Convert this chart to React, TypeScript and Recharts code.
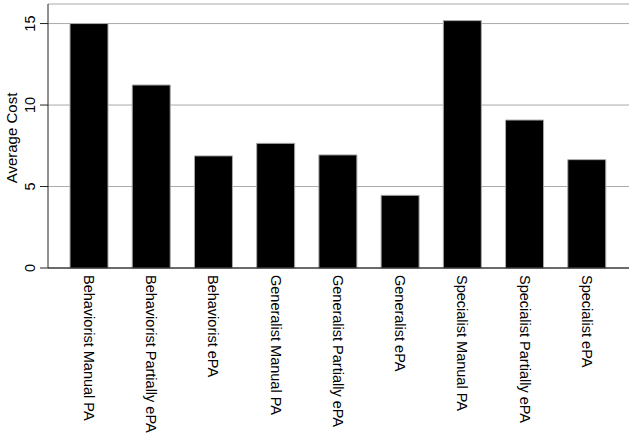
import React from "react";
import { BarChart, Bar, XAxis, YAxis, CartesianGrid } from "recharts";

const categories = [
  "Behaviorist Manual PA",
  "Behaviorist Partially ePA",
  "Behaviorist ePA",
  "Generalist Manual PA",
  "Generalist Partially ePA",
  "Generalist ePA",
  "Specialist Manual PA",
  "Specialist Partially ePA",
  "Specialist ePA",
];
const costs = [15.0, 11.23, 6.88, 7.65, 6.94, 4.46, 15.18, 9.08, 6.65];
const yTicks = [0, 5, 10, 15];

const data = categories.map((c, i) => ({ name: c, cost: costs[i] }));

const FONT = "'Liberation Sans', Arial, Helvetica, sans-serif";

const XTick = (props: any) => {
  const { x, y, payload } = props;
  const ty = y + 7;
  return (
    <text
      x={x}
      y={ty}
      transform={`rotate(90, ${x}, ${ty})`}
      textAnchor="start"
      dy="0.35em"
      fontSize={14.5}
      fontFamily={FONT}
      fill="#000"
    >
      {payload.value}
    </text>
  );
};

const YTick = (props: any) => {
  const { x, y, payload } = props;
  const tx = x - 3;
  return (
    <text
      x={tx}
      y={y}
      transform={`rotate(-90, ${tx}, ${y})`}
      textAnchor="middle"
      fontSize={14.5}
      fontFamily={FONT}
      fill="#000"
    >
      {payload.value}
    </text>
  );
};

export default function App() {
  return (
    <div style={{ position: "absolute", left: 0, top: 0, width: 634, height: 440, background: "#fff" }}>
      <BarChart
        width={634}
        height={440}
        data={data}
        margin={{ top: 4, right: 5, left: 0, bottom: 0 }}
      >
        <CartesianGrid vertical={false} stroke="#aaaaaa" strokeWidth={1} />
        <XAxis
          dataKey="name"
          interval={0}
          height={172}
          tickLine={false}
          tickSize={0}
          tickMargin={0}
          tick={<XTick />}
          axisLine={{ stroke: "#000", strokeWidth: 1 }}
          padding={{ left: 10, right: 11 }}
        />
        <YAxis
          width={48}
          domain={[0, 16.2]}
          ticks={yTicks}
          tickSize={8}
          tickMargin={2}
          tick={<YTick />}
          axisLine={{ stroke: "#222", strokeWidth: 1 }}
          tickLine={{ stroke: "#222", strokeWidth: 1 }}
          label={{
            value: "Average Cost",
            angle: -90,
            position: "insideLeft",
            content: () => (
              <text
                x={17}
                y={138}
                transform="rotate(-90, 17, 138)"
                textAnchor="middle"
                fontSize={15}
                fontFamily={FONT}
                fill="#000"
              >
                Average Cost
              </text>
            ),
          }}
        />
        <Bar dataKey="cost" fill="#000" stroke="#aaaaaa" strokeWidth={1} barSize={38} isAnimationActive={false} />
      </BarChart>
    </div>
  );
}
